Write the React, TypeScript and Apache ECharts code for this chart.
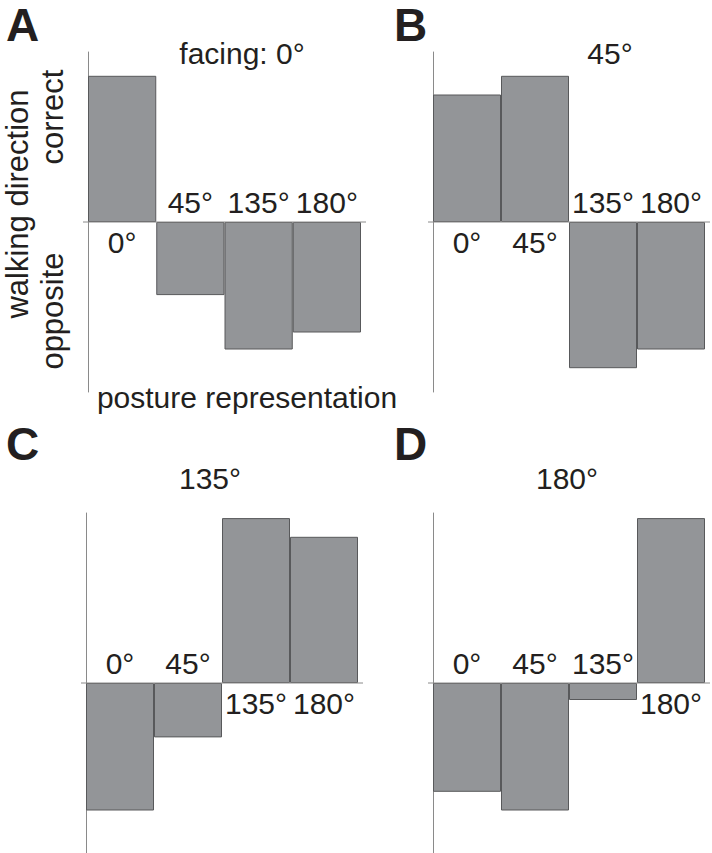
import React, { useEffect, useRef } from "react";
import * as echarts from "echarts";

const CATEGORIES = ["0°", "45°", "135°", "180°"];
const FACING_TITLES = ["facing: 0°", "45°", "135°", "180°"];
const PANEL_LETTERS = ["A", "B", "C", "D"];
const VALUES_A = [0.86, -0.43, -0.75, -0.65];
const VALUES_B = [0.75, 0.86, -0.86, -0.75];
const VALUES_C = [-0.75, -0.32, 0.97, 0.86];
const VALUES_D = [-0.64, -0.75, -0.1, 0.97];
const Y_TITLE = "walking direction";
const Y_POS_LABEL = "correct";
const Y_NEG_LABEL = "opposite";
const X_TITLE = "posture representation";

const PANEL_VALUES = [VALUES_A, VALUES_B, VALUES_C, VALUES_D];

// layout (pixels)
const GRIDS = [
  { left: 88, top: 52, width: 273, height: 340 },
  { left: 433, top: 52, width: 272, height: 340 },
  { left: 86, top: 513, width: 272, height: 340 },
  { left: 433, top: 513, width: 272, height: 340 },
];
const TITLE_POS = [
  [242, 53],
  [610, 53],
  [210, 478],
  [567, 478],
];
const LETTER_POS = [
  [6, 25],
  [394, 25],
  [6, 444],
  [394, 444],
];

const FONT = "'Liberation Sans', Arial, Helvetica, sans-serif";
const TEXT_COLOR = "#231f20";
const AXIS_COLOR = "#8a8a8a";
const BAR_COLOR = "#939598";
const BAR_BORDER = "#58595b";
const FS = 30;

export default function App() {
  const ref = useRef<HTMLDivElement>(null);

  useEffect(() => {
    if (!ref.current) return;
    const chart = echarts.init(ref.current, null, { renderer: "svg" });

    const grid = GRIDS.map((g) => ({ ...g, containLabel: false }));
    const xAxis = GRIDS.map((_, i) => ({
      type: "category",
      gridIndex: i,
      data: CATEGORIES,
      boundaryGap: true,
      axisLine: { show: false },
      axisTick: { show: false },
      axisLabel: { show: false },
      splitLine: { show: false },
    }));
    const yAxis = GRIDS.map((_, i) => ({
      type: "value",
      gridIndex: i,
      min: -1,
      max: 1,
      axisLine: { show: true, lineStyle: { color: AXIS_COLOR, width: 1 } },
      axisTick: { show: false },
      axisLabel: { show: false },
      splitLine: { show: false },
    }));

    const series: any[] = [];
    PANEL_VALUES.forEach((vals, i) => {
      series.push({
        type: "bar",
        xAxisIndex: i,
        yAxisIndex: i,
        data: vals,
        barCategoryGap: "0%",
        barWidth: "100%",
        itemStyle: {
          color: BAR_COLOR,
          borderColor: BAR_BORDER,
          borderWidth: 1,
        },
        silent: true,
      });
      series.push({
        type: "scatter",
        xAxisIndex: i,
        yAxisIndex: i,
        symbol: "circle",
        symbolSize: 0,
        itemStyle: { color: TEXT_COLOR, opacity: 1 },
        data: vals.map((v, k) => ({
          value: [k, 0],
          label: {
            show: true,
            formatter: CATEGORIES[k],
            position: v < 0 ? "top" : "bottom",
            distance: 5,
            fontSize: FS,
            lineHeight: FS,
            fontFamily: FONT,
            color: TEXT_COLOR,
            opacity: 1,
          },
        })),
        z: 5,
        silent: true,
      });
    });

    const texts: any[] = [];
    FACING_TITLES.forEach((t, i) => {
      texts.push({
        type: "text",
        x: TITLE_POS[i][0],
        y: TITLE_POS[i][1],
        style: {
          text: t,
          fontSize: FS,
          fontFamily: FONT,
          fill: TEXT_COLOR,
          textAlign: "center",
          textVerticalAlign: "middle",
        },
      });
    });
    PANEL_LETTERS.forEach((t, i) => {
      texts.push({
        type: "text",
        x: LETTER_POS[i][0],
        y: LETTER_POS[i][1],
        style: {
          text: t,
          fontSize: 46,
          fontWeight: "bold",
          fontFamily: FONT,
          fill: TEXT_COLOR,
          textAlign: "left",
          textVerticalAlign: "middle",
        },
      });
    });
    texts.push({
      type: "text",
      x: 17,
      y: 204,
      rotation: Math.PI / 2,
      style: {
        text: Y_TITLE,
        fontSize: 31,
        fontFamily: FONT,
        fill: TEXT_COLOR,
        textAlign: "center",
        textVerticalAlign: "middle",
      },
    });
    texts.push({
      type: "text",
      x: 52,
      y: 117,
      rotation: Math.PI / 2,
      style: {
        text: Y_POS_LABEL,
        fontSize: 31,
        fontFamily: FONT,
        fill: TEXT_COLOR,
        textAlign: "center",
        textVerticalAlign: "middle",
      },
    });
    texts.push({
      type: "text",
      x: 52,
      y: 311,
      rotation: Math.PI / 2,
      style: {
        text: Y_NEG_LABEL,
        fontSize: 31,
        fontFamily: FONT,
        fill: TEXT_COLOR,
        textAlign: "center",
        textVerticalAlign: "middle",
      },
    });
    texts.push({
      type: "text",
      x: 247,
      y: 397,
      style: {
        text: X_TITLE,
        fontSize: FS,
        fontFamily: FONT,
        fill: TEXT_COLOR,
        textAlign: "center",
        textVerticalAlign: "middle",
      },
    });

    chart.setOption({
      animation: false,
      backgroundColor: "#ffffff",
      grid,
      xAxis,
      yAxis,
      series,
    });

    const zeroLines = GRIDS.map((g, i) => {
      const y = chart.convertToPixel({ yAxisIndex: i } as any, 0) as number;
      return {
        type: "line",
        z: 10,
        shape: { x1: g.left - 5, y1: y, x2: g.left + g.width + 5, y2: y },
        style: { stroke: AXIS_COLOR, lineWidth: 1 },
        silent: true,
      };
    });

    chart.setOption({ graphic: [...texts, ...zeroLines] });

    return () => chart.dispose();
  }, []);

  return (
    <div
      ref={ref}
      style={{
        position: "fixed",
        left: 0,
        top: 0,
        width: 712,
        height: 853,
        background: "#fff",
      }}
    />
  );
}
